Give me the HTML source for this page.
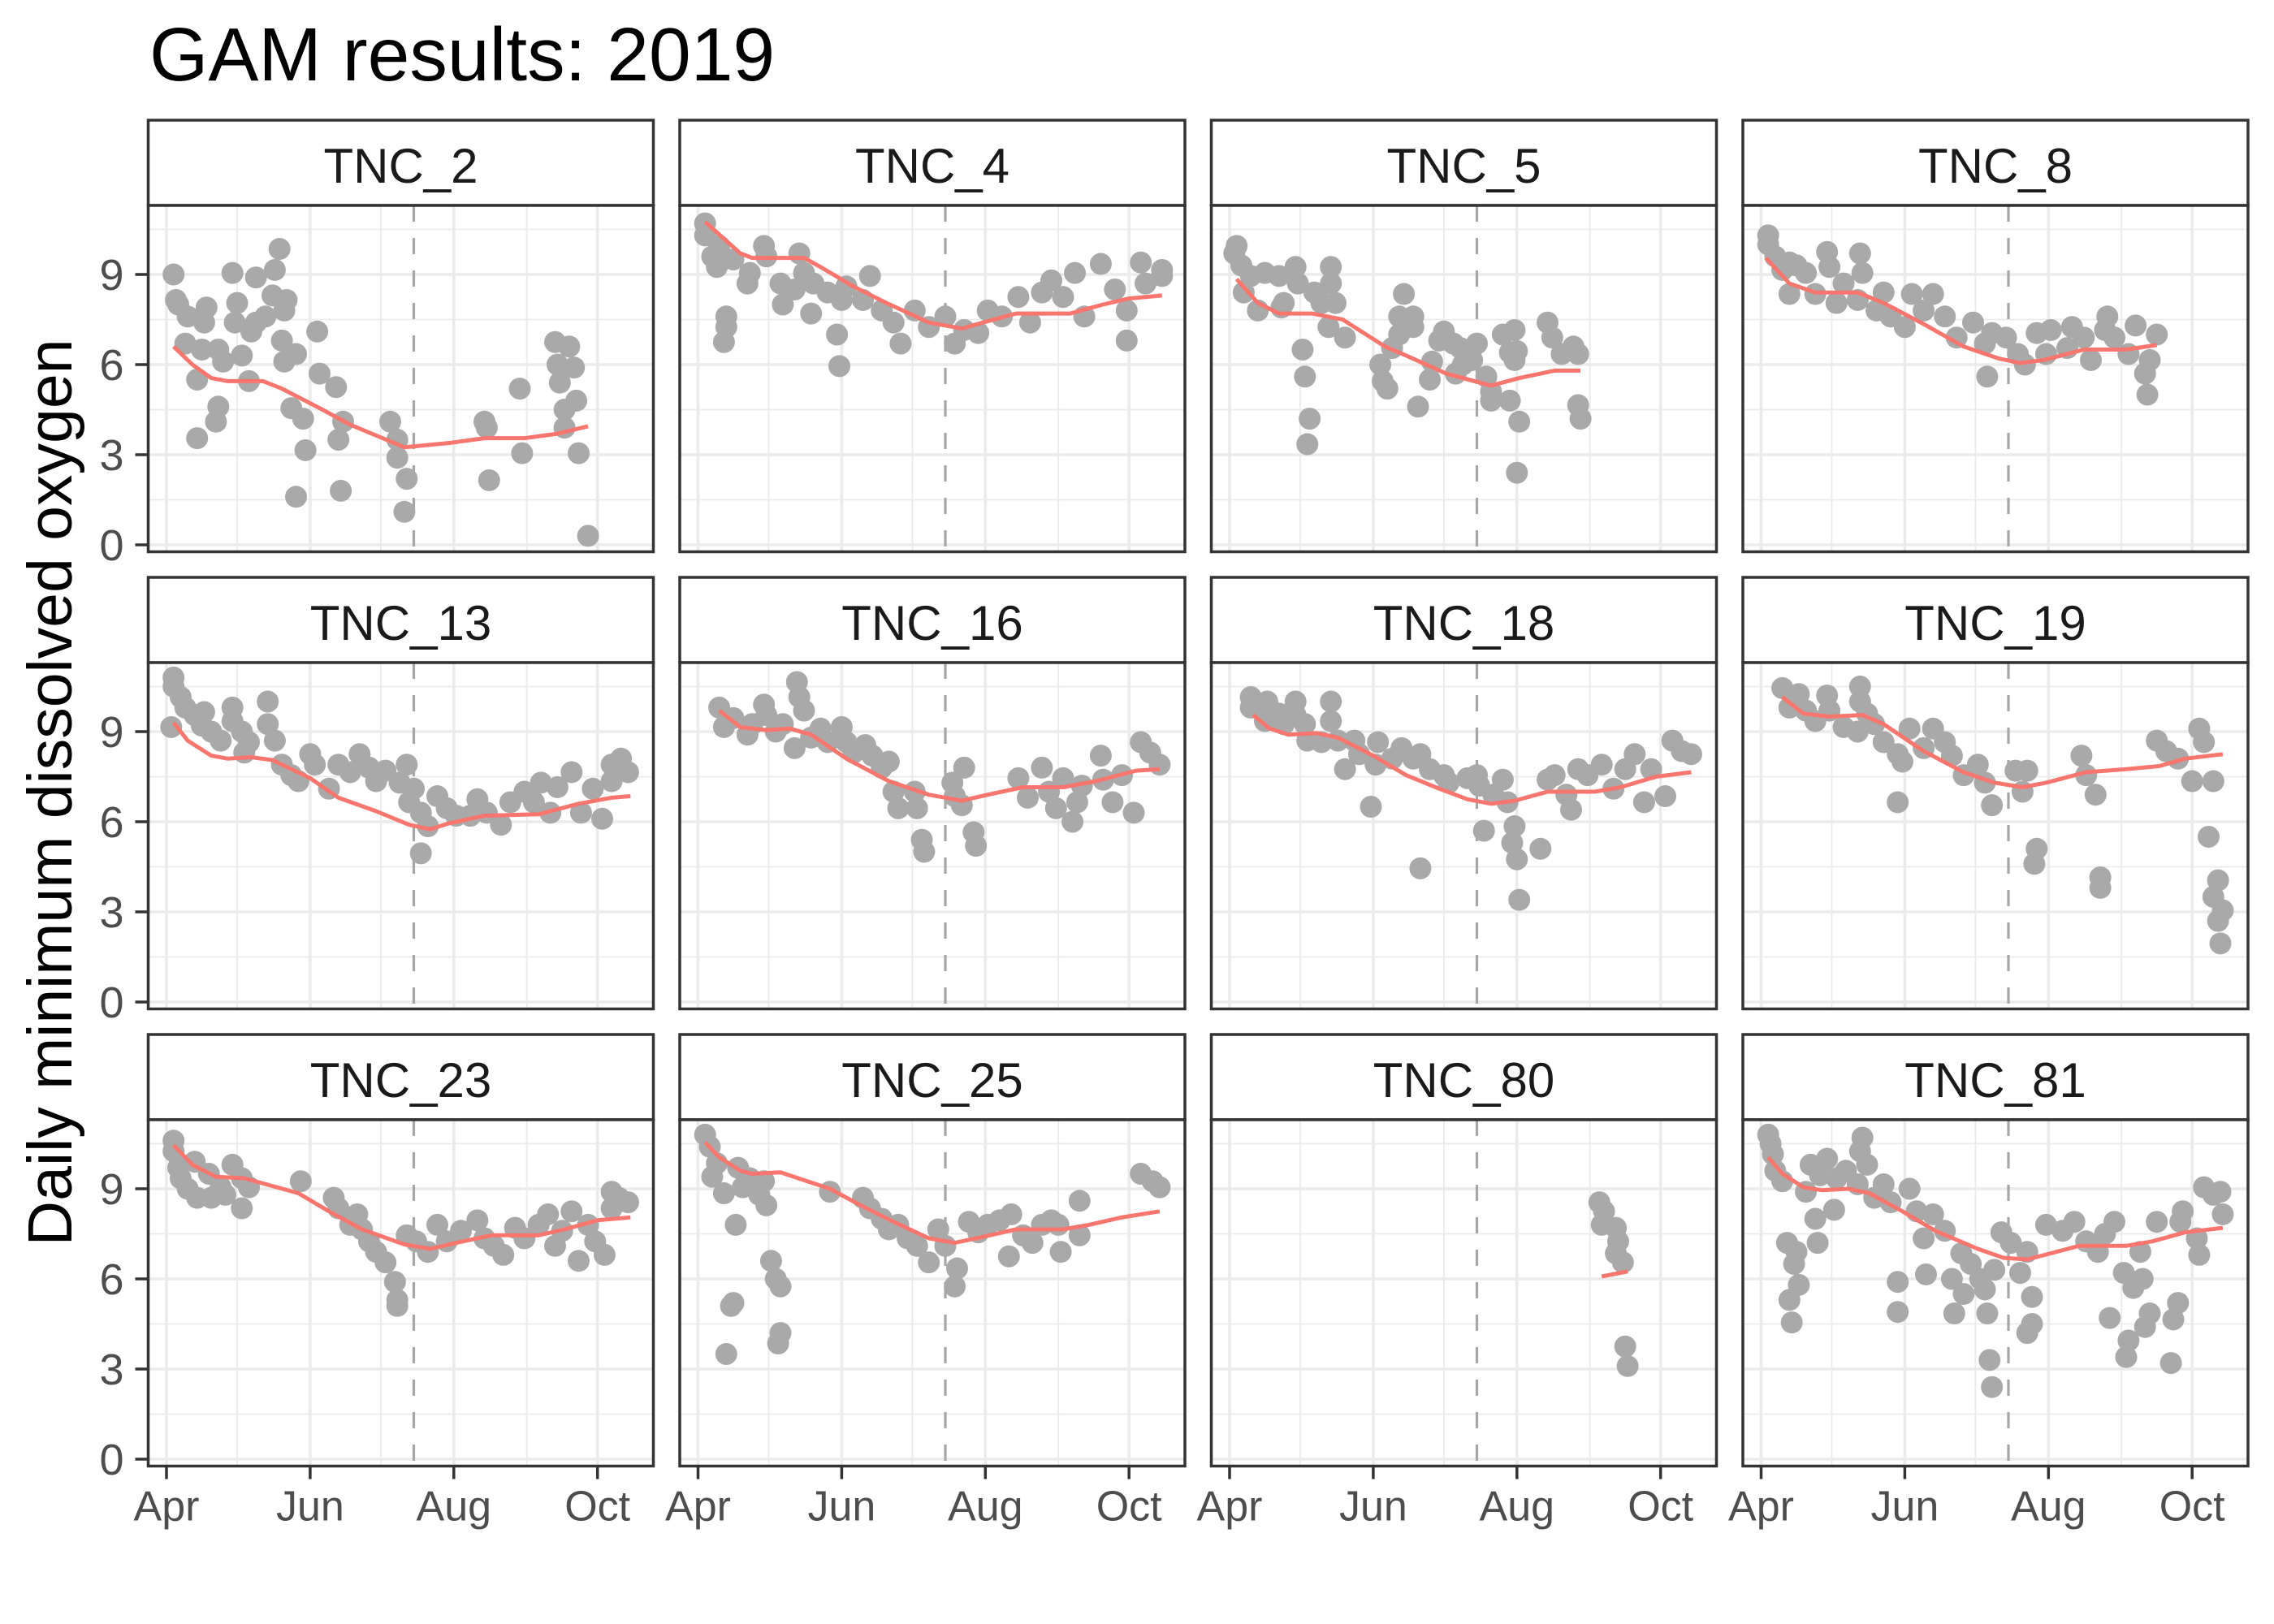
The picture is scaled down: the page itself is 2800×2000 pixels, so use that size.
<!DOCTYPE html>
<html><head><meta charset="utf-8"><title>GAM results: 2019</title>
<style>
html,body{margin:0;padding:0;background:#fff;}
svg{display:block;font-family:"Liberation Sans",Arial,sans-serif;}
</style></head>
<body>
<svg id="chart" width="2800" height="2000" viewBox="0 0 2800 2000" xmlns="http://www.w3.org/2000/svg">
<rect x="0" y="0" width="2800" height="2000" fill="#ffffff"/>
<text x="184" y="99" font-size="93" fill="#000">GAM results: 2019</text>
<text transform="translate(88,976) rotate(-90)" text-anchor="middle" font-size="77" fill="#000">Daily minimum dissolved oxygen</text>
<g id="panels"></g>
</svg>
<script>
// ---- data (day index from Apr 1, value = daily minimum DO) ----
const panelNames = ["TNC_2","TNC_4","TNC_5","TNC_8","TNC_13","TNC_16","TNC_18","TNC_19","TNC_23","TNC_25","TNC_80","TNC_81"];
const yTicks = [0,3,6,9];
const yMinor = [1.5,4.5,7.5,10.5];
const xTickDays = [0,61,122,183];
const xTickLabels = ["Apr","Jun","Aug","Oct"];
const xMinorDays = [30,91,153];
const cutoffDay = 105;

const tnc2Days = [3,4,5,9,17,16,8,15,22,24,13,32,35,28,38,48,46,45,51,50,30,29,36,42,38,49,50,55,64,65,72,22,21,13,53,58,59,55,75,73,74,95,98,98,102,101,135,136,137,150,151,165,171,166,173,167,174,169,169,175,179];
const tnc2Vals = [9.0,8.15,8.0,7.6,7.9,7.4,6.7,6.5,6.5,6.1,5.5,6.3,5.45,9.05,8.9,9.85,9.15,8.3,8.15,7.8,8.05,7.4,7.1,7.6,7.4,6.8,6.1,6.35,7.1,5.7,5.25,4.6,4.1,3.55,4.55,4.2,3.15,1.6,4.1,3.5,1.8,4.1,3.5,2.9,2.2,1.1,4.1,3.9,2.15,5.2,3.05,6.75,6.6,6.0,5.9,5.4,4.8,4.5,3.9,3.05,0.3];
const tnc2FitDays = [3,11,19,26,41,49,65,78,101,121,135,152,166,179];
const tnc2FitVals = [6.6,6.0,5.55,5.45,5.45,5.2,4.55,4.0,3.25,3.4,3.55,3.55,3.7,3.95];

const tnc4Days = [3,3,6,8,9,15,21,22,28,29,35,36,43,45,41,49,48,55,61,63,59,60,12,12,11,73,70,78,83,86,92,98,105,109,113,119,123,129,136,141,146,150,155,160,164,171,177,182,182,188,190,197,197];
const tnc4Vals = [10.7,10.3,9.6,9.25,9.95,9.5,8.7,9.05,9.95,9.6,8.7,8.0,9.7,9.05,8.5,8.7,7.7,8.4,8.15,8.6,7.0,5.95,7.6,7.25,6.75,8.95,8.15,7.8,7.4,6.7,7.8,7.25,7.6,6.7,7.15,7.05,7.8,7.6,8.25,7.4,8.4,8.8,8.25,9.05,7.6,9.35,8.5,7.8,6.8,9.4,8.7,9.15,8.95];
const tnc4FitDays = [3,18,23,45,52,66,80,98,112,121,135,158,172,183,197];
const tnc4FitVals = [10.75,9.7,9.55,9.55,9.25,8.6,8.05,7.4,7.2,7.4,7.7,7.7,8.0,8.2,8.3];

const tnc5Days = [3,2,5,9,15,21,28,29,6,12,23,22,36,39,43,43,45,42,49,31,32,34,33,74,72,78,78,72,69,64,65,67,80,86,85,91,89,95,98,99,105,103,96,109,111,111,119,116,121,119,122,121,123,122,135,137,141,146,148,148,149];
const tnc5Vals = [9.95,9.7,9.3,8.95,9.05,8.95,9.25,8.7,8.4,7.8,8.05,7.9,8.4,8.05,9.25,8.7,8.05,7.25,6.9,6.5,5.6,4.2,3.35,8.35,7.6,7.6,7.25,7.0,6.55,6.0,5.45,5.2,4.6,6.1,5.5,7.1,6.8,6.7,6.55,6.0,6.7,6.15,5.7,5.6,5.1,4.8,4.8,7.0,7.15,6.4,6.45,6.15,4.1,2.4,7.4,6.9,6.35,6.6,6.35,4.65,4.2];
const tnc5FitDays = [3,12,21,35,48,66,75,92,111,123,138,149];
const tnc5FitVals = [8.85,8.05,7.7,7.7,7.5,6.6,6.3,5.7,5.3,5.55,5.8,5.8];

const tnc8Days = [3,3,6,9,12,15,19,28,29,42,43,12,23,32,35,41,49,52,64,73,55,61,69,78,83,90,95,98,96,104,109,112,117,123,121,132,130,137,140,147,146,150,159,156,165,163,168,164];
const tnc8Vals = [10.3,10.0,9.6,9.15,9.4,9.3,9.05,9.75,9.25,9.7,9.05,8.35,8.35,8.05,8.7,8.15,7.8,8.4,8.35,8.35,7.6,7.25,7.8,7.6,6.9,7.4,6.7,7.05,5.6,6.9,6.35,6.0,7.05,7.15,6.35,7.25,6.55,6.9,6.15,7.6,7.15,6.9,7.3,6.35,6.15,5.7,7.0,5.0];
const tnc8FitDays = [2,12,23,41,52,69,86,101,110,120,137,155,168];
const tnc8FitVals = [9.55,8.7,8.4,8.4,8.05,7.35,6.6,6.2,6.05,6.15,6.5,6.5,6.65];

const tnc13Days = [2,3,3,6,8,12,16,15,19,23,28,28,32,35,33,43,43,46,49,53,56,61,63,69,73,78,82,86,89,93,99,102,105,103,108,111,108,115,119,123,129,132,136,142,146,152,156,159,163,166,172,176,181,185,189,193,196,189];
const tnc13Vals = [9.15,10.8,10.5,10.15,9.8,9.55,9.65,9.2,9.0,8.7,9.8,9.35,9.0,8.65,8.3,10.0,9.25,8.7,7.9,7.55,7.35,8.25,7.9,7.1,7.9,7.65,8.25,7.8,7.35,7.7,7.3,7.9,7.1,6.65,6.3,5.85,4.95,6.85,6.45,6.2,6.2,6.75,6.3,5.9,6.65,7.0,6.65,7.3,6.3,7.15,7.65,6.3,7.1,6.1,7.9,8.1,7.65,7.35];
const tnc13FitDays = [3,9,19,26,36,45,61,73,89,103,112,120,135,158,175,189,197];
const tnc13FitVals = [9.3,8.7,8.2,8.1,8.15,8.05,7.45,6.8,6.35,5.9,5.75,5.95,6.2,6.25,6.6,6.8,6.85];

const tnc16Days = [9,11,15,21,23,28,29,33,36,41,42,43,45,48,52,55,61,63,66,71,74,78,81,83,85,92,93,95,96,108,109,112,113,117,118,136,140,146,149,152,155,159,161,163,171,172,176,180,185,188,192,196];
const tnc16Vals = [9.8,9.15,9.45,8.9,9.25,9.9,9.55,9.0,9.25,8.45,10.65,10.15,9.7,8.8,9.1,8.65,9.15,8.65,8.3,8.55,8.2,7.8,8.0,7.0,6.45,7.0,6.45,5.4,5.0,7.3,6.85,6.55,7.8,5.65,5.2,7.45,6.8,7.8,7.0,6.45,7.45,6.0,6.65,7.2,8.2,7.4,6.65,7.55,6.3,8.65,8.3,7.9];
const tnc16FitDays = [9,18,29,39,48,63,81,98,112,123,138,155,169,186,196];
const tnc16FitVals = [9.7,9.15,9.05,9.1,8.9,8.1,7.35,6.9,6.7,6.9,7.15,7.15,7.35,7.7,7.75];

const tnc18Days = [9,9,16,15,21,23,28,28,32,33,39,43,43,46,49,53,55,60,62,63,69,73,78,81,81,85,91,93,101,105,106,108,112,116,118,121,120,122,123,132,135,138,143,145,148,152,158,163,168,172,176,179,185,188,192,196];
const tnc18Vals = [10.15,9.8,10.0,9.35,9.6,9.25,10.0,9.55,9.25,8.7,8.65,10.0,9.35,8.7,7.75,8.7,8.25,6.5,7.9,8.65,8.1,8.45,8.1,8.25,4.45,7.75,7.55,7.3,7.45,7.55,7.2,5.7,6.9,7.4,6.65,5.85,5.3,4.75,3.4,5.1,7.4,7.55,6.9,6.4,7.75,7.55,7.9,7.1,7.75,8.25,6.65,7.75,6.85,8.7,8.35,8.25];
const tnc18FitDays = [10,17,25,37,46,61,75,89,101,111,121,135,155,166,181,196];
const tnc18FitVals = [9.55,9.1,8.9,8.95,8.8,8.2,7.55,7.1,6.75,6.6,6.7,7.0,7.0,7.15,7.5,7.65];

const tnc19Days = [9,12,16,19,23,28,29,35,41,42,42,45,48,52,58,58,60,63,69,73,78,81,86,92,95,98,108,111,113,117,116,136,138,142,144,144,168,172,177,183,186,188,192,190,194,192,196,194,195];
const tnc19Vals = [10.45,9.8,10.25,9.7,9.35,10.2,9.7,9.15,9.0,10.5,10.0,9.6,9.25,8.65,8.25,6.65,8.0,9.1,8.45,9.1,8.65,8.2,7.55,7.9,7.3,6.55,7.7,7.0,7.7,5.1,4.6,8.2,7.55,6.9,4.15,3.8,8.7,8.35,8.1,7.35,9.1,8.65,7.35,5.5,4.05,3.5,3.05,2.7,1.95];
const tnc19FitDays = [9,18,29,43,52,69,86,99,111,121,138,155,169,180,196];
const tnc19FitVals = [10.15,9.6,9.5,9.55,9.25,8.35,7.65,7.3,7.15,7.3,7.65,7.75,7.85,8.1,8.25];

const tnc23Days = [3,3,5,6,9,12,13,18,19,23,25,28,32,32,35,57,71,73,78,81,83,86,89,93,97,98,98,102,106,111,115,119,125,132,135,139,143,148,152,158,162,165,168,172,175,179,182,186,189,192,196,189];
const tnc23Vals = [10.6,10.25,9.7,9.35,9.0,9.9,8.7,9.5,8.7,9.05,8.8,9.8,9.35,8.35,9.05,9.25,8.7,8.35,7.8,8.15,7.65,7.25,6.9,6.55,5.9,5.3,5.1,7.45,7.25,6.9,7.8,7.25,7.6,7.95,7.35,7.1,6.8,7.7,7.35,7.8,8.15,7.1,7.6,8.25,6.6,7.8,7.25,6.8,8.9,8.7,8.55,8.35];
const tnc23FitDays = [3,11,21,33,56,69,83,101,112,123,138,158,169,183,197];
const tnc23FitVals = [10.45,9.8,9.4,9.35,8.85,8.25,7.65,7.15,7.0,7.2,7.45,7.45,7.65,7.95,8.05];

const tnc25Days = [3,5,8,6,11,16,17,19,22,26,28,29,31,33,35,15,14,12,35,34,56,70,73,78,81,85,89,93,98,102,105,110,109,115,119,123,128,133,138,142,132,146,150,153,154,162,162,188,193,196];
const tnc25Vals = [10.8,10.4,9.85,9.4,8.85,7.8,9.7,9.05,9.35,8.8,9.25,8.45,6.6,6.0,5.75,5.2,5.1,3.5,4.2,3.85,8.9,8.7,8.35,8.0,7.65,7.8,7.35,7.1,6.55,7.65,7.1,6.35,5.75,7.9,7.55,7.8,7.95,8.15,7.45,7.2,6.75,7.8,7.95,7.8,6.9,8.6,7.45,9.5,9.25,9.05];
const tnc25FitDays = [3,9,18,23,35,56,69,83,98,109,121,135,155,166,180,196];
const tnc25FitVals = [10.55,10.05,9.6,9.5,9.55,9.0,8.45,7.9,7.35,7.2,7.4,7.65,7.65,7.8,8.05,8.25];

const tnc80Days = [157,159,158,164,165,164,167,168,169];
const tnc80Vals = [8.55,8.25,7.8,7.7,7.25,6.85,6.55,3.75,3.1];
const tnc80FitDays = [158,169];
const tnc80FitVals = [6.08,6.25];

const tnc81Days = [3,4,5,6,9,11,15,14,16,12,13,19,21,23,24,25,28,32,31,36,41,43,42,45,48,52,55,58,58,63,66,69,70,73,78,81,82,85,86,89,93,95,96,97,98,99,102,106,110,113,115,115,113,121,128,133,138,143,146,150,154,158,162,161,148,156,155,165,163,168,175,177,174,178,179,185,186,188,192,195,196];
const tnc81Vals = [10.8,10.5,10.15,9.6,9.25,7.2,6.9,6.5,5.8,5.3,4.55,8.9,9.8,8.0,7.2,9.45,10.0,9.35,8.3,9.6,9.15,10.7,10.25,9.8,8.7,9.15,8.55,5.9,4.9,9.0,8.25,7.35,6.15,8.15,7.6,6.0,4.85,6.85,5.5,6.5,6.0,5.65,4.85,3.3,2.4,6.3,7.55,7.2,6.2,6.9,5.4,4.5,4.2,7.8,7.6,7.9,7.25,6.9,7.5,7.9,6.2,5.7,6.0,6.9,4.7,3.95,3.4,4.85,4.4,7.9,4.65,5.2,3.2,7.9,8.25,7.35,6.8,9.05,8.8,8.9,8.15];
const tnc81FitDays = [3,9,18,26,37,46,60,74,92,103,113,123,135,155,166,180,196];
const tnc81FitVals = [10.05,9.5,9.05,8.95,9.0,8.85,8.25,7.6,7.0,6.7,6.65,6.85,7.1,7.1,7.25,7.55,7.7];

const panelPoints = [
  [tnc2Days,tnc2Vals],[tnc4Days,tnc4Vals],[tnc5Days,tnc5Vals],[tnc8Days,tnc8Vals],
  [tnc13Days,tnc13Vals],[tnc16Days,tnc16Vals],[tnc18Days,tnc18Vals],[tnc19Days,tnc19Vals],
  [tnc23Days,tnc23Vals],[tnc25Days,tnc25Vals],[tnc80Days,tnc80Vals],[tnc81Days,tnc81Vals]];
const panelFits = [
  [tnc2FitDays,tnc2FitVals],[tnc4FitDays,tnc4FitVals],[tnc5FitDays,tnc5FitVals],[tnc8FitDays,tnc8FitVals],
  [tnc13FitDays,tnc13FitVals],[tnc16FitDays,tnc16FitVals],[tnc18FitDays,tnc18FitVals],[tnc19FitDays,tnc19FitVals],
  [tnc23FitDays,tnc23FitVals],[tnc25FitDays,tnc25FitVals],[tnc80FitDays,tnc80FitVals],[tnc81FitDays,tnc81FitVals]];

// ---- layout ----
const NS = "http://www.w3.org/2000/svg";
const colLeft = 182.5, colStep = 654.5, panelW = 622;
const rowTop = 148, rowStep = 563, stripH = 105, panelBottomOff = 531.5;

function mk(tag, attrs, parent){
  const e = document.createElementNS(NS, tag);
  for (const k in attrs) e.setAttribute(k, attrs[k]);
  parent.appendChild(e);
  return e;
}
const root = document.getElementById("panels");

panelNames.forEach((name, i) => {
  const col = i % 4, row = Math.floor(i / 4);
  const left = colLeft + col * colStep;
  const sTop = rowTop + row * rowStep;
  const pTop = sTop + stripH;
  const pBot = sTop + panelBottomOff;
  const xs = d => left + 22.5 + d * 2.9;
  const ys = v => pBot - 8.5 - v * 37;

  const g = mk("g", {}, root);
  
  

  const strip = mk("rect", {x:left, y:sTop, width:panelW, height:stripH, fill:"#ffffff", stroke:"#333333", "stroke-width":3.5}, g);
  
  
  const st = mk("text", {x:left + panelW/2, y:sTop + 77, "text-anchor":"middle", "font-size":60, fill:"#1a1a1a"}, g);
  st.textContent = name;
  
  

  const bg = mk("rect", {x:left, y:pTop, width:panelW, height:pBot - pTop, fill:"#ffffff"}, g);
  
  

  const clip = "clip" + i;
  const cp = mk("clipPath", {id:clip}, g);
  mk("rect", {x:left, y:pTop, width:panelW, height:pBot - pTop}, cp);
  const gg = mk("g", {"clip-path":"url(#" + clip + ")"}, g);
  yMinor.forEach(v => {
    const l = mk("line", {x1:left, x2:left+panelW, y1:ys(v), y2:ys(v), stroke:"#ebebeb", "stroke-width":1.8}, gg);
    
    
  });
  xMinorDays.forEach(d => {
    const l = mk("line", {x1:xs(d), x2:xs(d), y1:pTop, y2:pBot, stroke:"#ebebeb", "stroke-width":1.8}, gg);
    
    
  });
  yTicks.forEach(v => {
    const l = mk("line", {x1:left, x2:left+panelW, y1:ys(v), y2:ys(v), stroke:"#ebebeb", "stroke-width":3.6}, gg);
    
    
  });
  xTickDays.forEach(d => {
    const l = mk("line", {x1:xs(d), x2:xs(d), y1:pTop, y2:pBot, stroke:"#ebebeb", "stroke-width":3.6}, gg);
    
    
  });

  const dl = mk("line", {x1:xs(cutoffDay), x2:xs(cutoffDay), y1:pTop, y2:pBot, stroke:"#a6a6a6", "stroke-width":3.2, "stroke-dasharray":"20 20"}, gg);
  
  

  const [pd, pv] = panelPoints[i];
  pd.forEach((d, k) => {
    const c = mk("circle", {cx:xs(d), cy:ys(pv[k]), r:13.5, fill:"#a9a9a9"}, gg);
    
    
  });

  const [fd, fv] = panelFits[i];
  const pts = fd.map((d, k) => xs(d).toFixed(1) + "," + ys(fv[k]).toFixed(1)).join(" ");
  const fl = mk("polyline", {points:pts, fill:"none", stroke:"#F8766D", "stroke-width":5, "stroke-linejoin":"round", "stroke-linecap":"butt"}, gg);
  
  

  const br = mk("rect", {x:left, y:pTop, width:panelW, height:pBot - pTop, fill:"none", stroke:"#333333", "stroke-width":3.5}, g);
  
  

  if (col === 0) {
    yTicks.forEach(v => {
      const t = mk("line", {x1:left-16, x2:left, y1:ys(v), y2:ys(v), stroke:"#333333", "stroke-width":3.5}, g);
      
      
      const tl = mk("text", {x:left-30, y:ys(v)+19, "text-anchor":"end", "font-size":54, fill:"#4d4d4d"}, g);
      tl.textContent = String(v);
      
      
    });
  }
  if (row === 2) {
    xTickDays.forEach((d, k) => {
      const t = mk("line", {x1:xs(d), x2:xs(d), y1:pBot, y2:pBot+16, stroke:"#333333", "stroke-width":3.5}, g);
      
      
      const tl = mk("text", {x:xs(d), y:pBot + 67, "text-anchor":"middle", "font-size":52, fill:"#4d4d4d"}, g);
      tl.textContent = xTickLabels[k];
      
      
    });
  }
});
</script>
</body></html>
